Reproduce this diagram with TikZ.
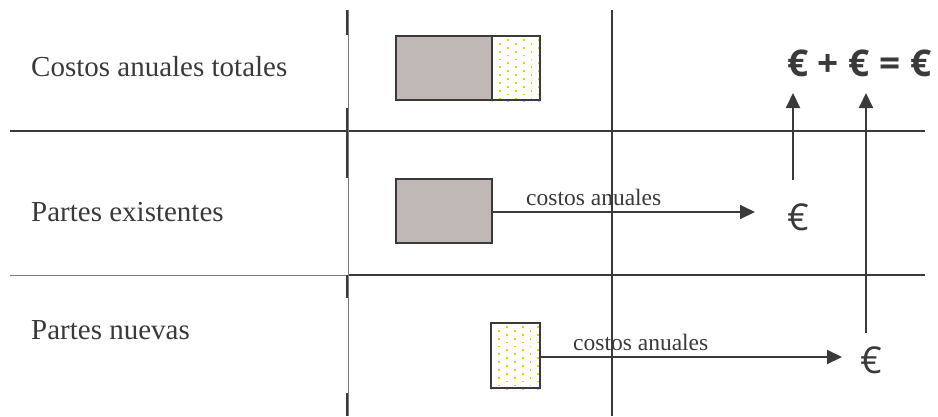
\documentclass[tikz,border=0pt]{standalone}
\usepackage{fontspec}
\setmainfont{Liberation Serif}
\newfontfamily\eurofont{Open Sans}
\usetikzlibrary{arrows.meta}
\definecolor{ink}{HTML}{3A3A3C}
\definecolor{thin}{HTML}{7A7A7A}
\definecolor{boxgray}{HTML}{C0B8B5}
\definecolor{dotyellow}{HTML}{F9C513}
\tikzset{
  lbl/.style={anchor=base west, inner sep=0pt, text=ink, font=\fontsize{29}{32}\selectfont},
  small/.style={anchor=base west, inner sep=0pt, text=ink, font=\fontsize{23.5}{26}\selectfont},
  eurosym/.style={anchor=base west, inner sep=0pt, text=ink, font=\eurofont\fontsize{37}{40}\selectfont},
  eurobold/.style={anchor=base west, inner sep=0pt, text=ink, font=\eurofont\bfseries\fontsize{37}{40}\selectfont},
  grid/.style={draw=ink, line width=2pt},
  thinline/.style={draw=thin, line width=1pt},
  graybox/.style={draw=ink, line width=2pt, fill=boxgray, inner sep=0pt},
  dotbox/.style={draw=ink, line width=2pt, inner sep=0pt},
  arr/.style={draw=ink, line width=2pt, -{Triangle[length=15pt,width=14pt]}},
  plain/.style={draw=ink, line width=2pt}
}
\newcommand{\mydotfill}[1]{%
  \begin{scope}
    \clip (#1.south west) rectangle (#1.north east);
    \path (#1.north west) coordinate (dfnw);
    \foreach \j in {0,...,16}{
      \pgfmathsetmacro{\off}{mod(\j,2)*7.8}
      \foreach \i in {0,...,3}{
        \fill[dotyellow] ([shift={({0.5+\off+\i*15.6},{4+\j*3.9})}]dfnw) rectangle ++(1.8,1.8);
      }
    }
  \end{scope}}
\begin{document}
\begin{tikzpicture}[x=1pt,y=-1pt]
\useasboundingbox (0,0) rectangle (938,416);
% grid lines
\draw[grid] (10,131) -- (925,131);
\draw[thinline] (10,275) -- (348,275);
\draw[grid] (348,275) -- (925,275);
\draw[thinline] (348,10) -- (348,416);
\draw[grid] (347,10) -- (347,35);
\draw[grid] (347,108) -- (347,178);
\draw[grid] (347,275) -- (347,298);
\draw[grid] (347,393) -- (347,416);
\draw[grid] (612,10) -- (612,416);
% row labels
\node[lbl] (l1) at (31,76) {Costos anuales totales};
\node[lbl] (l2) at (31,221) {Partes existentes};
\node[lbl] (l3) at (31,339) {Partes nuevas};
% boxes
\node[graybox, minimum width=96pt, minimum height=64pt] (tg) at (444,68) {};
\node[dotbox, minimum width=48pt, minimum height=64pt] (td) at (516,68) {};
\mydotfill{td}
\node[dotbox, minimum width=48pt, minimum height=64pt] at (516,68) {};
\node[graybox, minimum width=96pt, minimum height=64pt] (eg) at (444,211) {};
\node[dotbox, minimum width=49pt, minimum height=65pt] (nd) at (515.5,355.5) {};
\mydotfill{nd}
\node[dotbox, minimum width=49pt, minimum height=65pt] at (515.5,355.5) {};
% euro labels
\node[eurobold] (sum) at (787,76) {€ + € = €};
\node[eurosym] (e1) at (787,230) {€};
\node[eurosym] (e2) at (860,373) {€};
% arrows
\coordinate (t1) at (755,212);
\coordinate (t2) at (842,357);
\draw[arr] (eg.east |- t1) -- (t1);
\draw[arr] (nd.east |- t2) -- (t2);
\node[small] (c1) at (526,205) {costos anuales};
\node[small] (c2) at (573,350) {costos anuales};
\coordinate (u1s) at (793,180);
\coordinate (u1e) at (793,93);
\coordinate (u2s) at (866,333);
\coordinate (u2e) at (866,93);
\draw[arr] (u1s) -- (u1e);
\draw[arr] (u2s) -- (u2e);
\end{tikzpicture}
\end{document}
